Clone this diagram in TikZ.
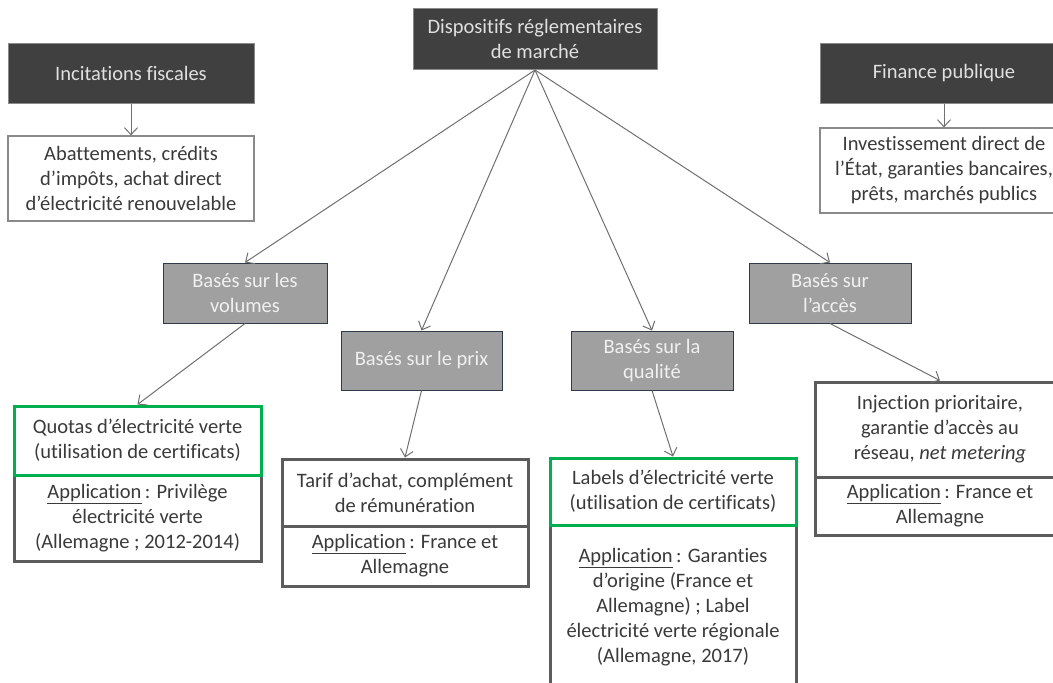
\documentclass[tikz,border=0pt]{standalone}
\usepackage{fontspec}
\setmainfont[Ligatures=NoCommon]{Carlito}
\usepackage{tikz}
\usetikzlibrary{arrows.meta}

\definecolor{darkbox}{HTML}{404040}
\definecolor{midbox}{HTML}{A0A0A0}
\definecolor{midline}{HTML}{2F3B4A}
\definecolor{txt}{HTML}{3A3A3A}
\definecolor{lightline}{HTML}{8A8A8A}
\definecolor{heavyline}{HTML}{5C5C5C}
\definecolor{vert}{HTML}{00B050}
\definecolor{arrowgray}{HTML}{707070}

\begin{document}
\begin{tikzpicture}[x=1pt, y=-1pt,
        every node/.style={font=\fontsize{20.5}{25}\selectfont, align=center, inner sep=0pt},
        dark/.style={fill=darkbox, draw=lightline, line width=1pt, text=white!88!black},
        mid/.style={fill=midbox, draw=midline, line width=1pt, text=white!94!black},
        plain/.style={fill=white, draw=lightline, line width=1.2pt, text=txt},
        heavy/.style={fill=white, draw=heavyline, line width=3pt, text=txt},
        green/.style={fill=white, draw=vert, line width=3pt, text=txt},
        link/.style={draw=arrowgray, line width=1pt, -{Straight Barb[length=7pt,width=13pt]}}]
    \useasboundingbox (0,0) rectangle (1053,683);
    \clip (0,0) rectangle (1053,683);
    \fill[white] (0,0) rectangle (1053,683);

    % top row
    \node[dark, minimum width=244, minimum height=61] (marche) at (535,39) {Dispositifs réglementaires\\de marché};
    \node[dark, minimum width=246, minimum height=60] (fisc) at (131,73) {Incitations fiscales};
    \node[plain, minimum width=246, minimum height=85] (fiscdet) at (131,178.5) {Abattements, crédits\\d’impôts, achat direct\\d’électricité renouvelable};
    \node[dark, minimum width=248, minimum height=60] (finance) at (944,73) {Finance publique};
    \node[plain, minimum width=248, minimum height=85] (financedet) at (944,170.5) {Investissement direct de\\l’État, garanties bancaires,\\prêts, marchés publics};

    % categories
    \node[mid, minimum width=164, minimum height=60] (volumes) at (245,293) {Basés sur les\\volumes};
    \node[mid, minimum width=161, minimum height=59] (prix) at (421.5,360.5) {Basés sur le prix};
    \node[mid, minimum width=162, minimum height=59] (qualite) at (652,360.5) {Basés sur la\\qualité};
    \node[mid, minimum width=162, minimum height=60] (acces) at (830,293) {Basés sur\\l’accès};

    % instruments
    \node[heavy, minimum width=247, minimum height=86] (quotaapp) at (137.5,518) {\underline{Application}\,: Privilège\\électricité verte\\(Allemagne ; 2012-2014)};
    \node[green, minimum width=247, minimum height=69] (quota) at (137.5,440.5) {Quotas d’électricité verte\\(utilisation de certificats)};
    \node[heavy, minimum width=246, minimum height=60] (tarifapp) at (405,556) {\underline{Application}\,: France et\\Allemagne};
    \node[heavy, minimum width=246, minimum height=67] (tarif) at (405,492.5) {Tarif d’achat, complément\\de rémunération};
    \node[heavy, minimum width=246, minimum height=165] (labelapp) at (673,607.5) {\underline{Application}\,: Garanties\\d’origine (France et\\Allemagne) ; Label\\électricité verte régionale\\(Allemagne, 2017)};
    \node[green, minimum width=246, minimum height=67] (label) at (673,491.5) {Labels d’électricité verte\\(utilisation de certificats)};
    \node[heavy, minimum width=250, minimum height=58] (injapp) at (940,506) {\underline{Application}\,: France et\\Allemagne};
    \node[heavy, minimum width=250, minimum height=95] (inj) at (940,429.5) {Injection prioritaire,\\garantie d’accès au\\réseau, \textit{net metering}};

    % links
    \foreach \cat in {volumes,prix,qualite,acces}
        \draw[link] (marche.south) -- (\cat.north);
    \draw[link] (fisc) -- (fiscdet);
    \draw[link] (finance) -- (financedet);
    \draw[link] (volumes.south) -- (quota.north);
    \draw[link] (prix.south) -- (tarif.north);
    \draw[link] (qualite.south) -- (label.north);
    \draw[link] (acces.south) -- (inj.north);
\end{tikzpicture}
\end{document}
